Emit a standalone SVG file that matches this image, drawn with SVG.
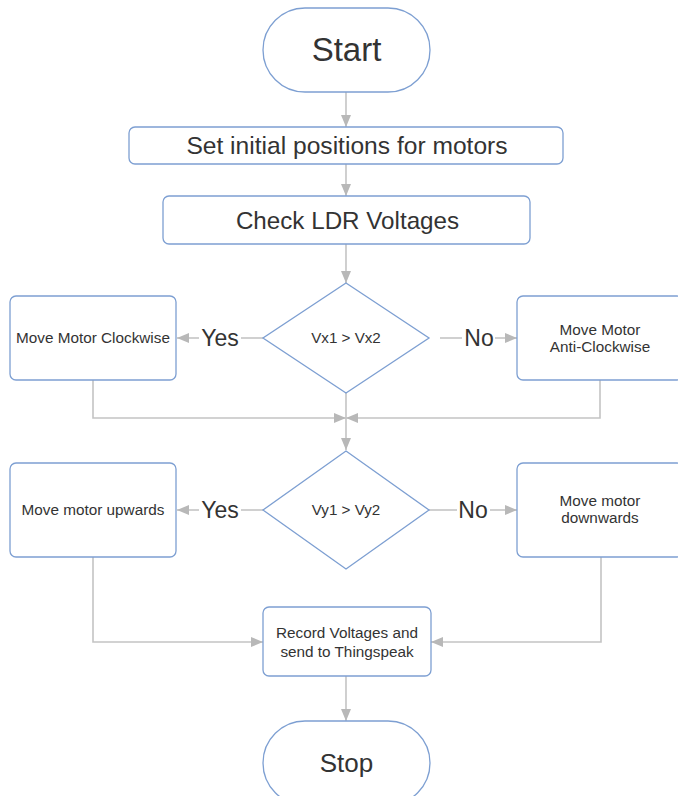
<svg xmlns="http://www.w3.org/2000/svg" width="678" height="796" viewBox="0 0 678 796">
<style>
.box{fill:#fff;stroke:#7d9fd2;stroke-width:1.3}
.t{font-family:"Liberation Sans",Arial,sans-serif;fill:#333;text-anchor:middle}
.c{fill:none;stroke:#c4c4c4;stroke-width:1.6}
</style>
<defs>
<marker id="ah" markerUnits="userSpaceOnUse" markerWidth="12" markerHeight="10" refX="12" refY="5" orient="auto">
<path d="M0,0 L12,5 L0,10 z" fill="#b8b8b8"/>
</marker>
</defs>
<rect width="678" height="796" fill="#fff"/>
<g id="connectors">
<line class="c" x1="346" y1="92" x2="346" y2="127" marker-end="url(#ah)"/>
<line class="c" x1="346" y1="164" x2="346" y2="196" marker-end="url(#ah)"/>
<line class="c" x1="346" y1="244" x2="346" y2="283" marker-end="url(#ah)"/>
<line class="c" x1="263" y1="338" x2="241" y2="338"/>
<line class="c" x1="199" y1="338" x2="177" y2="338" marker-end="url(#ah)"/>
<line class="c" x1="440" y1="338" x2="462" y2="338"/>
<line class="c" x1="495" y1="338" x2="517" y2="338" marker-end="url(#ah)"/>
<polyline class="c" points="93,380 93,418 346,418" marker-end="url(#ah)"/>
<polyline class="c" points="600,380 600,418 346,418" marker-end="url(#ah)"/>
<line class="c" x1="346" y1="393" x2="346" y2="450" marker-end="url(#ah)"/>
<line class="c" x1="263" y1="510" x2="241" y2="510"/>
<line class="c" x1="199" y1="510" x2="177" y2="510" marker-end="url(#ah)"/>
<line class="c" x1="429" y1="510" x2="457" y2="510"/>
<line class="c" x1="490" y1="510" x2="517" y2="510" marker-end="url(#ah)"/>
<polyline class="c" points="93,557 93,642 263,642" marker-end="url(#ah)"/>
<polyline class="c" points="601,557 601,642 431,642" marker-end="url(#ah)"/>
<line class="c" x1="346" y1="676" x2="346" y2="721" marker-end="url(#ah)"/>
</g>
<g id="labels">
<text class="t" x="220" y="346" font-size="23">Yes</text>
<text class="t" x="479" y="346" font-size="23">No</text>
<text class="t" x="220" y="518" font-size="23">Yes</text>
<text class="t" x="473" y="518" font-size="23">No</text>
</g>
<g id="start">
<rect class="box" x="263" y="8" width="167" height="84" rx="42"/>
<text class="t" x="346.5" y="61" font-size="33">Start</text>
</g>
<g id="set-initial">
<rect class="box" x="129" y="127" width="434" height="37" rx="6"/>
<text class="t" x="347" y="154" font-size="24.6">Set initial positions for motors</text>
</g>
<g id="check-ldr">
<rect class="box" x="163" y="196" width="367" height="48" rx="6"/>
<text class="t" x="347.5" y="229" font-size="24.2">Check LDR Voltages</text>
</g>
<g id="decision-x">
<polygon class="box" points="346,283 429,338 346,393 263,338"/>
<text class="t" x="346" y="343" font-size="15.2">Vx1 &gt; Vx2</text>
</g>
<g id="clockwise">
<rect class="box" x="10" y="296" width="166" height="84" rx="6"/>
<text class="t" x="93" y="343" font-size="15.3">Move Motor Clockwise</text>
</g>
<g id="anticlockwise">
<rect class="box" x="517" y="296" width="166" height="84" rx="6"/>
<text class="t" x="600" y="335" font-size="15.3">Move Motor</text>
<text class="t" x="600" y="352" font-size="15.3">Anti-Clockwise</text>
</g>
<g id="decision-y">
<polygon class="box" points="346,451 429,510 346,569 263,510"/>
<text class="t" x="346" y="515" font-size="15.2">Vy1 &gt; Vy2</text>
</g>
<g id="upwards">
<rect class="box" x="10" y="463" width="166" height="94" rx="6"/>
<text class="t" x="93" y="515" font-size="15.3">Move motor upwards</text>
</g>
<g id="downwards">
<rect class="box" x="517" y="463" width="166" height="94" rx="6"/>
<text class="t" x="600" y="506" font-size="15.3">Move motor</text>
<text class="t" x="600" y="523" font-size="15.3">downwards</text>
</g>
<g id="record">
<rect class="box" x="263" y="607" width="168" height="69" rx="6"/>
<text class="t" x="347" y="638" font-size="15.3">Record Voltages and</text>
<text class="t" x="347" y="657" font-size="15.3">send to Thingspeak</text>
</g>
<g id="stop">
<rect class="box" x="263" y="721" width="167" height="84" rx="42"/>
<text class="t" x="346.5" y="772" font-size="26">Stop</text>
</g>
</svg>
